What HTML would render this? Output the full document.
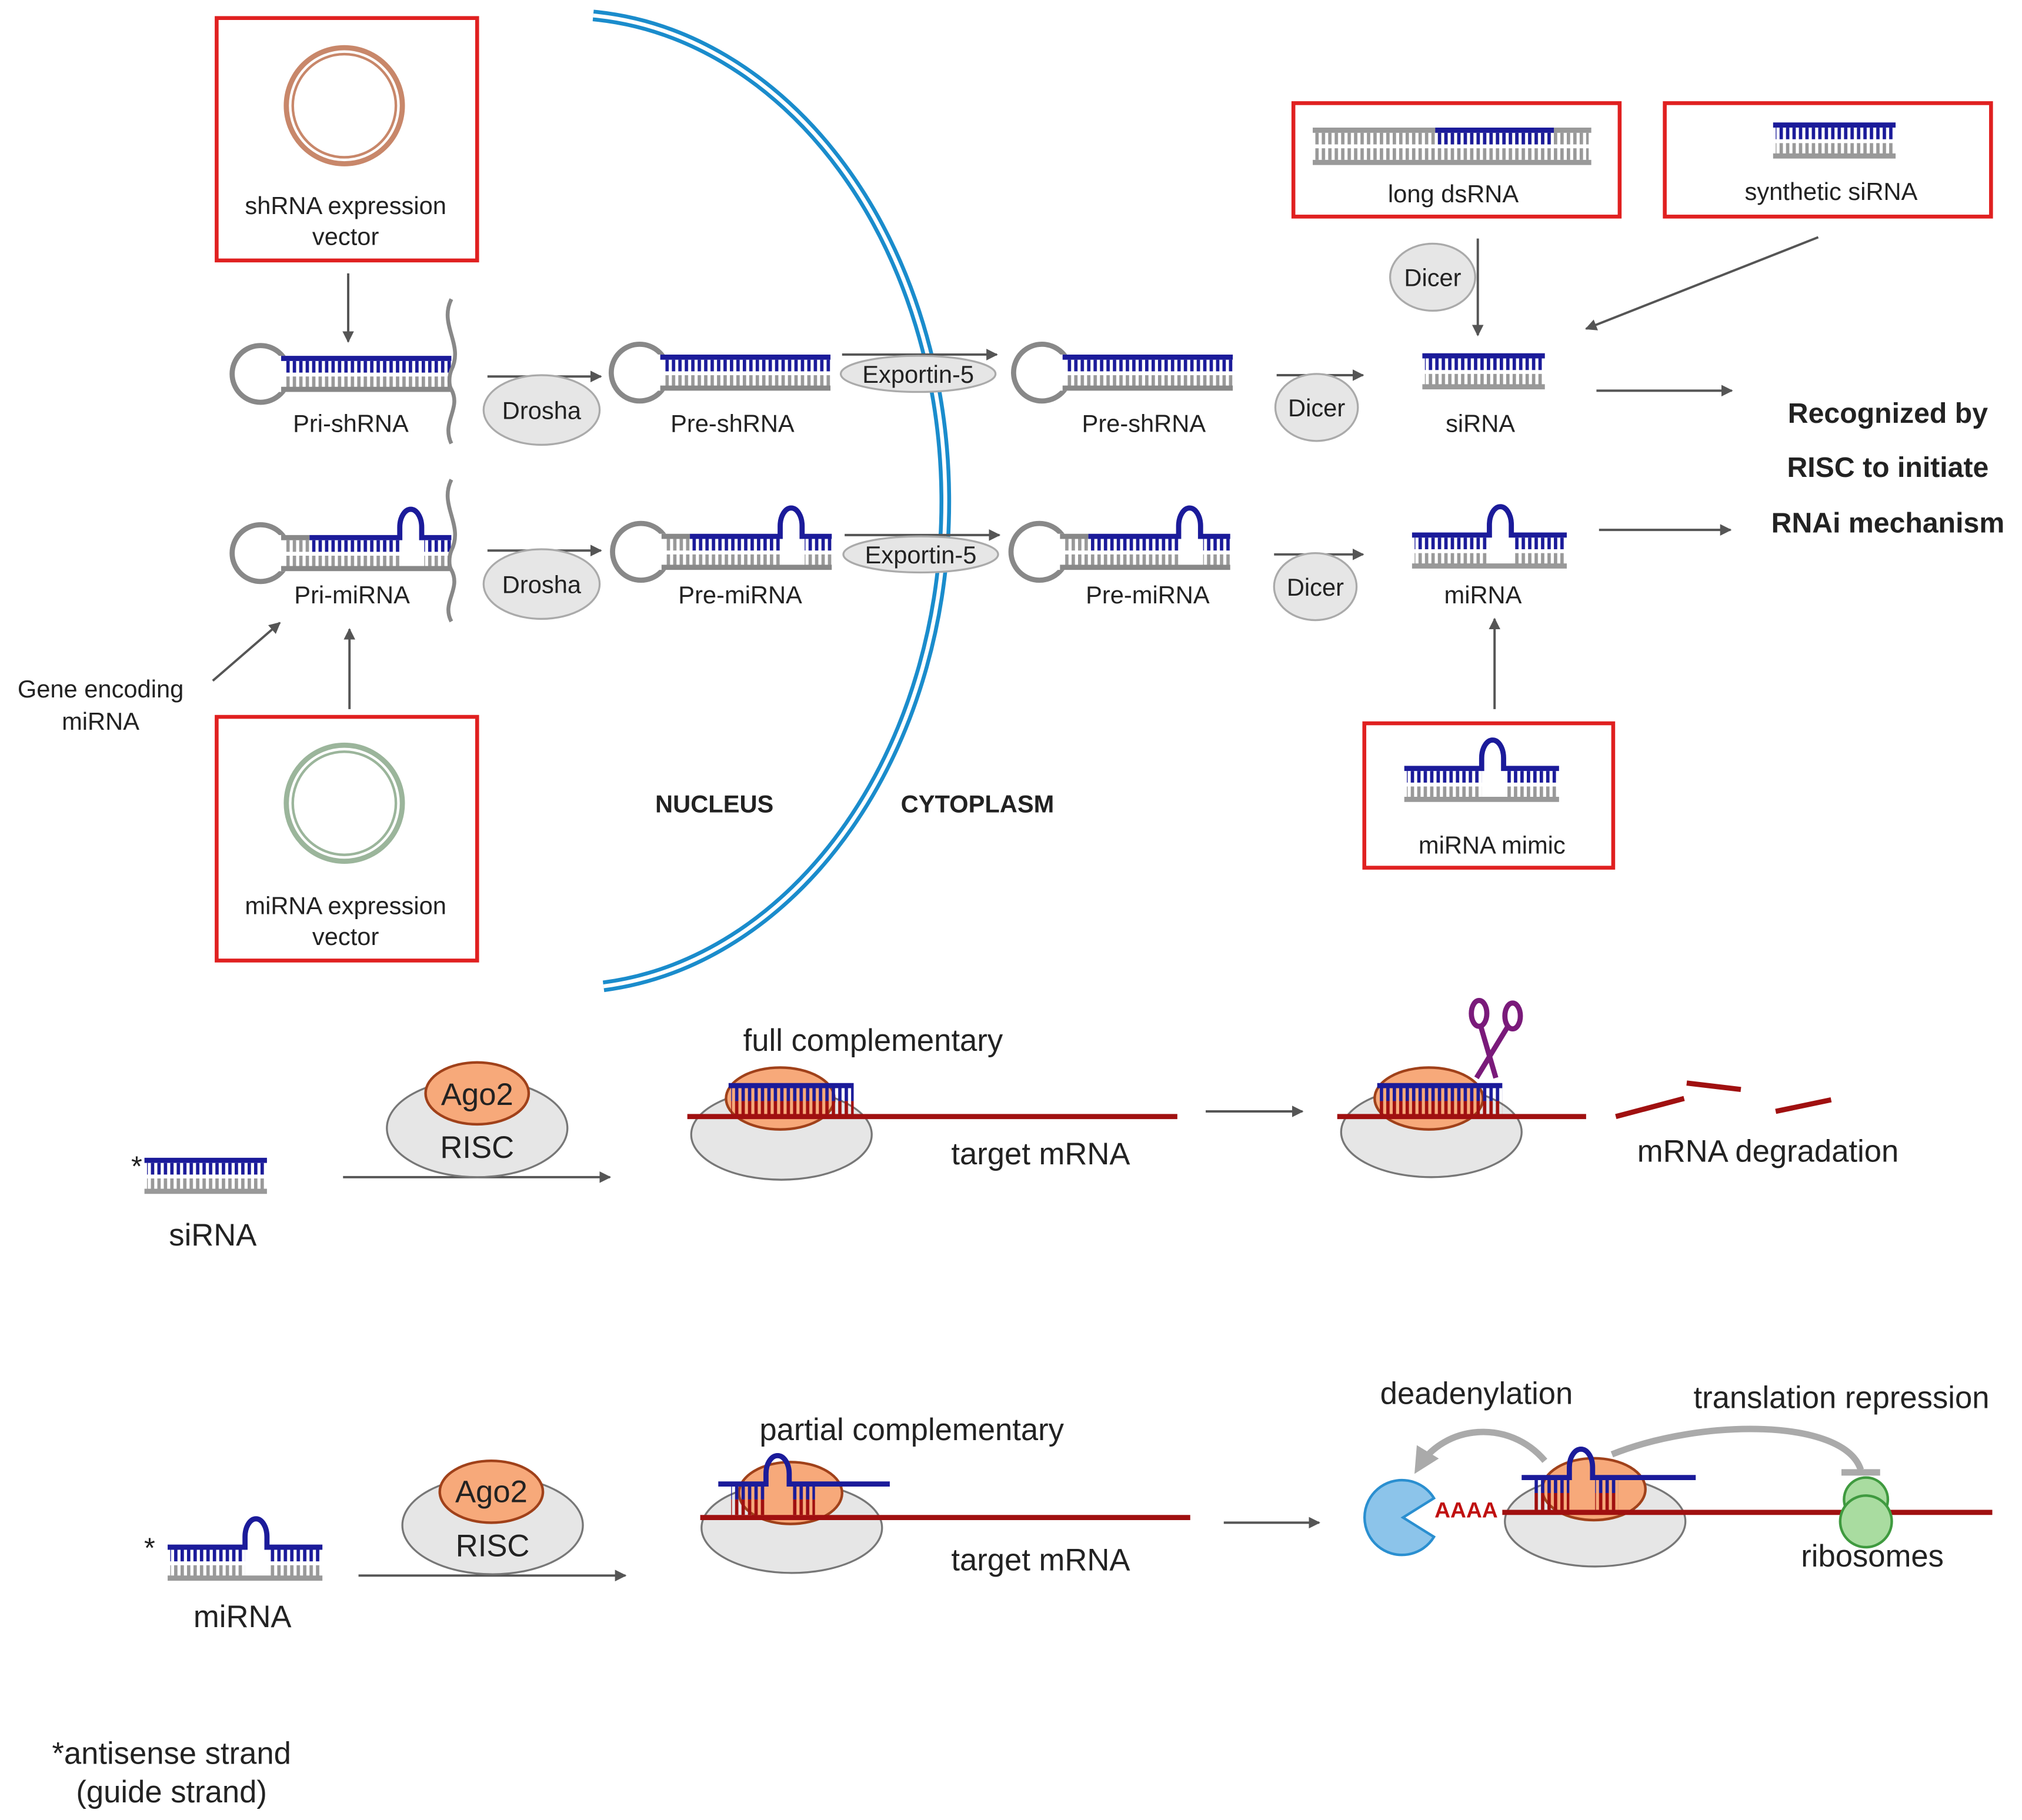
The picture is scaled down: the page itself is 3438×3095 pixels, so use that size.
<!DOCTYPE html>
<html><head><meta charset="utf-8"><style>html,body{margin:0;padding:0;background:#fff}svg{display:block}text{font-family:"Liberation Sans",sans-serif}</style></head><body>
<svg width="3438" height="3095" viewBox="0 0 1568 1411.6" xmlns="http://www.w3.org/2000/svg">
<defs>
<pattern id="pb" patternUnits="userSpaceOnUse" width="5" height="10"><rect width="2.6" height="10" fill="#1b1b9a"/></pattern>
<pattern id="pg" patternUnits="userSpaceOnUse" width="5" height="10"><rect width="2.6" height="10" fill="#999"/></pattern>
<pattern id="pr" patternUnits="userSpaceOnUse" width="5" height="30"><rect width="2.6" height="30" fill="#a01010"/></pattern>
<marker id="ar" viewBox="0 0 10 10" refX="9" refY="5" markerWidth="5" markerHeight="5" orient="auto"><path d="M0,0L10,5L0,10z" fill="#555"/></marker>
<marker id="arg" viewBox="0 0 10 10" refX="7" refY="5" markerWidth="4" markerHeight="4" orient="auto"><path d="M0,0L10,5L0,10z" fill="#aaa"/></marker>
<g id="sh">
<circle cx="0" cy="-2" r="22" fill="none" stroke="#888" stroke-width="4"/>
<rect x="14" y="-16" width="140" height="28" fill="#fff"/>
<line x1="16" y1="-14" x2="148" y2="-14" stroke="#1b1b9a" stroke-width="4"/>
<rect x="20" y="-12" width="128" height="9" fill="url(#pb)"/>
<rect x="20" y="0" width="128" height="9" fill="url(#pg)"/>
<line x1="16" y1="10" x2="148" y2="10" stroke="#888" stroke-width="4"/>
</g>
<g id="mi">
<circle cx="0" cy="-2" r="22" fill="none" stroke="#888" stroke-width="4"/>
<rect x="14" y="-16" width="140" height="28" fill="#fff"/>
<line x1="16" y1="-14" x2="38" y2="-14" stroke="#888" stroke-width="4"/>
<path d="M38,-14H108V-22A8.5,14 0 0 1 125,-22V-14H148" fill="none" stroke="#1b1b9a" stroke-width="4"/>
<rect x="20" y="-12" width="18" height="9" fill="url(#pg)"/>
<rect x="40" y="-12" width="68" height="9" fill="url(#pb)"/>
<rect x="127" y="-12" width="21" height="9" fill="url(#pb)"/>
<rect x="20" y="0" width="88" height="9" fill="url(#pg)"/>
<rect x="127" y="0" width="21" height="9" fill="url(#pg)"/>
<line x1="16" y1="10" x2="148" y2="10" stroke="#888" stroke-width="4"/>
</g>
<g id="si">
<line x1="0" y1="-14" x2="95" y2="-14" stroke="#1b1b9a" stroke-width="4"/>
<rect x="2" y="-12" width="92" height="9" fill="url(#pb)"/>
<rect x="2" y="0" width="92" height="9" fill="url(#pg)"/>
<line x1="0" y1="10" x2="95" y2="10" stroke="#999" stroke-width="4"/>
</g>
<g id="mis">
<path d="M0,-14H60V-22A8.5,14 0 0 1 77,-22V-14H120" fill="none" stroke="#1b1b9a" stroke-width="4"/>
<rect x="2" y="-12" width="58" height="9" fill="url(#pb)"/>
<rect x="79" y="-12" width="40" height="9" fill="url(#pb)"/>
<rect x="2" y="0" width="58" height="9" fill="url(#pg)"/>
<rect x="79" y="0" width="40" height="9" fill="url(#pg)"/>
<line x1="0" y1="10" x2="120" y2="10" stroke="#999" stroke-width="4"/>
</g>
</defs>
<g font-size="19" fill="#222" text-anchor="middle">
<g fill="none" stroke="#e02020" stroke-width="3">
<rect x="168" y="14" width="202" height="188"/><rect x="168" y="556" width="202" height="189"/>
<rect x="1003" y="80" width="253" height="88"/><rect x="1291" y="80" width="253" height="88"/>
<rect x="1058" y="561" width="193" height="112"/></g>
<circle cx="267" cy="82" r="45" fill="none" stroke="#c8876a" stroke-width="4"/><circle cx="267" cy="82" r="40" fill="none" stroke="#c8876a" stroke-width="2"/>
<circle cx="267" cy="623" r="45" fill="none" stroke="#9bb59b" stroke-width="4"/><circle cx="267" cy="623" r="40" fill="none" stroke="#9bb59b" stroke-width="2"/>
<text x="268" y="166">shRNA expression</text><text x="268" y="190">vector</text>
<text x="268" y="709">miRNA expression</text><text x="268" y="733">vector</text>
<text x="78" y="541">Gene encoding</text><text x="78" y="566">miRNA</text>
<path d="M460,12 A295,378 0 0 1 468,765" fill="none" stroke="#1a8ccc" stroke-width="9"/>
<path d="M460,12 A295,378 0 0 1 468,765" fill="none" stroke="#fff" stroke-width="3"/>
<text x="554" y="630" font-weight="bold">NUCLEUS</text><text x="758" y="630" font-weight="bold">CYTOPLASM</text>
<g stroke="#555" stroke-width="1.8" marker-end="url(#ar)" fill="none">
<line x1="270" y1="212" x2="270" y2="265"/><line x1="271" y1="550" x2="271" y2="488"/><line x1="165" y1="528" x2="217" y2="483"/>
<line x1="378" y1="292" x2="466" y2="292"/><line x1="653" y1="275" x2="773" y2="275"/><line x1="990" y1="291" x2="1057" y2="291"/><line x1="1238" y1="303" x2="1343" y2="303"/>
<line x1="378" y1="427" x2="466" y2="427"/><line x1="655" y1="415" x2="775" y2="415"/><line x1="988" y1="430" x2="1057" y2="430"/><line x1="1240" y1="411" x2="1342" y2="411"/>
<line x1="1146" y1="185" x2="1146" y2="260"/><line x1="1410" y1="184" x2="1230" y2="255"/><line x1="1159" y1="550" x2="1159" y2="480"/>
<line x1="266" y1="913" x2="473" y2="913"/><line x1="935" y1="862" x2="1010" y2="862"/><line x1="278" y1="1222" x2="485" y2="1222"/><line x1="949" y1="1181" x2="1023" y2="1181"/>
</g>
<use href="#sh" x="202" y="292"/>
<path d="M350,232c-10,20 10,35 0,55c-2,5 -2,12 0,15c8,15 -8,25 0,42" fill="none" stroke="#888" stroke-width="3"/>
<text x="272" y="335">Pri-shRNA</text>
<use href="#sh" x="496" y="291"/><text x="568" y="335">Pre-shRNA</text>
<use href="#sh" x="808" y="291"/><text x="887" y="335">Pre-shRNA</text>
<use href="#si" x="1103" y="290"/><text x="1148" y="335">siRNA</text>
<use href="#mi" x="202" y="431"/>
<path d="M350,372c-10,20 10,35 0,55c-2,5 -2,12 0,15c8,15 -8,25 0,40" fill="none" stroke="#888" stroke-width="3"/>
<text x="273" y="468">Pri-miRNA</text>
<use href="#mi" x="497" y="430"/><text x="574" y="468">Pre-miRNA</text>
<use href="#mi" x="806" y="430"/><text x="890" y="468">Pre-miRNA</text>
<use href="#mis" x="1095" y="429"/><text x="1150" y="468">miRNA</text>
<g fill="#e6e6e6" stroke="#aaa" stroke-width="1.5">
<ellipse cx="420" cy="318" rx="45" ry="27"/><ellipse cx="420" cy="453" rx="45" ry="27"/>
<ellipse cx="712" cy="290" rx="60" ry="14"/><ellipse cx="714" cy="430" rx="60" ry="14"/>
<ellipse cx="1021" cy="316" rx="32" ry="26"/><ellipse cx="1020" cy="455" rx="32" ry="26"/>
<ellipse cx="1111" cy="215" rx="33" ry="26"/></g>
<text x="420" y="325">Drosha</text><text x="420" y="460">Drosha</text>
<text x="712" y="297">Exportin-5</text><text x="714" y="437">Exportin-5</text>
<text x="1021" y="323">Dicer</text><text x="1020" y="462">Dicer</text><text x="1111" y="222">Dicer</text>
<g font-size="22" font-weight="bold"><text x="1464" y="328">Recognized by</text><text x="1464" y="370">RISC to initiate</text><text x="1464" y="413">RNAi mechanism</text></g>
<line x1="1018" y1="101" x2="1234" y2="101" stroke="#999" stroke-width="4"/>
<line x1="1113" y1="101" x2="1205" y2="101" stroke="#1b1b9a" stroke-width="4"/>
<rect x="1020" y="103" width="212" height="9" fill="url(#pg)"/><rect x="1115" y="103" width="90" height="9" fill="url(#pb)"/>
<rect x="1020" y="115" width="212" height="9" fill="url(#pg)"/>
<line x1="1018" y1="126" x2="1234" y2="126" stroke="#999" stroke-width="4"/>
<text x="1127" y="157">long dsRNA</text>
<use href="#si" x="1375" y="111"/><text x="1420" y="155">synthetic siRNA</text>
<use href="#mis" x="1089" y="610"/><text x="1157" y="662">miRNA mimic</text>
<g font-size="24">
<use href="#si" x="112" y="914"/><text x="106" y="912" font-size="22">*</text><text x="165" y="966">siRNA</text>
<ellipse cx="370" cy="875" rx="70" ry="38" fill="#e6e6e6" stroke="#777" stroke-width="1.5"/>
<ellipse cx="370" cy="848" rx="40" ry="24" fill="#f7a97a" stroke="#a0411a" stroke-width="2"/>
<text x="370" y="857">Ago2</text><text x="370" y="898">RISC</text>
<text x="677" y="815">full complementary</text>
<ellipse cx="606" cy="880" rx="70" ry="35" fill="#e6e6e6" stroke="#777" stroke-width="1.5"/>
<ellipse cx="605" cy="852" rx="42" ry="24" fill="#f7a97a" stroke="#a0411a" stroke-width="2"/>
<line x1="565" y1="842" x2="662" y2="842" stroke="#1b1b9a" stroke-width="4"/>
<rect x="567" y="844" width="95" height="10" fill="url(#pb)"/><rect x="567" y="854" width="95" height="11" fill="url(#pr)"/>
<line x1="533" y1="866" x2="913" y2="866" stroke="#a01010" stroke-width="4"/>
<text x="807" y="903">target mRNA</text>
<ellipse cx="1110" cy="878" rx="70" ry="35" fill="#e6e6e6" stroke="#777" stroke-width="1.5"/>
<ellipse cx="1108" cy="852" rx="42" ry="24" fill="#f7a97a" stroke="#a0411a" stroke-width="2"/>
<line x1="1068" y1="842" x2="1165" y2="842" stroke="#1b1b9a" stroke-width="4"/>
<rect x="1070" y="844" width="95" height="10" fill="url(#pb)"/><rect x="1070" y="854" width="95" height="11" fill="url(#pr)"/>
<line x1="1037" y1="866" x2="1230" y2="866" stroke="#a01010" stroke-width="4"/>
<g stroke="#7a1a7a" stroke-width="4" fill="none"><line x1="1145" y1="836" x2="1170" y2="795"/><line x1="1160" y1="836" x2="1148" y2="795"/><ellipse cx="1147" cy="786" rx="6" ry="10"/><ellipse cx="1173" cy="788" rx="6" ry="10"/></g>
<g stroke="#a01010" stroke-width="4"><line x1="1253" y1="866" x2="1306" y2="852"/><line x1="1308" y1="840" x2="1350" y2="845"/><line x1="1377" y1="862" x2="1420" y2="853"/></g>
<text x="1371" y="901">mRNA degradation</text>
<use href="#mis" x="130" y="1214"/><text x="116" y="1208" font-size="22">*</text><text x="188" y="1262">miRNA</text>
<ellipse cx="382" cy="1183" rx="70" ry="38" fill="#e6e6e6" stroke="#777" stroke-width="1.5"/>
<ellipse cx="381" cy="1157" rx="40" ry="24" fill="#f7a97a" stroke="#a0411a" stroke-width="2"/>
<text x="381" y="1165">Ago2</text><text x="382" y="1207">RISC</text>
<text x="707" y="1117">partial complementary</text>
<ellipse cx="614" cy="1185" rx="70" ry="35" fill="#e6e6e6" stroke="#777" stroke-width="1.5"/>
<ellipse cx="613" cy="1158" rx="40" ry="24" fill="#f7a97a" stroke="#a0411a" stroke-width="2"/>
<path d="M557,1151H594V1143A9,14 0 0 1 612,1143V1151H690" fill="none" stroke="#1b1b9a" stroke-width="4"/>
<rect x="567" y="1153" width="27" height="10" fill="url(#pb)"/><rect x="567" y="1163" width="27" height="12" fill="url(#pr)"/>
<rect x="614" y="1153" width="18" height="10" fill="url(#pb)"/><rect x="614" y="1163" width="18" height="12" fill="url(#pr)"/>
<line x1="543" y1="1177" x2="923" y2="1177" stroke="#a01010" stroke-width="4"/>
<text x="807" y="1218">target mRNA</text>
<ellipse cx="1237" cy="1180" rx="70" ry="35" fill="#e6e6e6" stroke="#777" stroke-width="1.5"/>
<ellipse cx="1236" cy="1155" rx="40" ry="24" fill="#f7a97a" stroke="#a0411a" stroke-width="2"/>
<path d="M1180,1146H1217V1138A9,14 0 0 1 1235,1138V1146H1315" fill="none" stroke="#1b1b9a" stroke-width="4"/>
<rect x="1190" y="1148" width="27" height="10" fill="url(#pb)"/><rect x="1190" y="1158" width="27" height="13" fill="url(#pr)"/>
<rect x="1237" y="1148" width="18" height="10" fill="url(#pb)"/><rect x="1237" y="1158" width="18" height="13" fill="url(#pr)"/>
<line x1="1165" y1="1173" x2="1545" y2="1173" stroke="#a01010" stroke-width="4"/>
<text x="1137" y="1177" font-size="17" font-weight="bold" fill="#c01010">AAAA</text>
<path d="M1112,1162A29,29 0 1 0 1112,1192L1088,1177Z" fill="#8cc4ea" stroke="#2a8fd0" stroke-width="2"/>
<path d="M1198,1133C1170,1100 1120,1105 1100,1138" fill="none" stroke="#aaa" stroke-width="5" marker-end="url(#arg)"/>
<path d="M1250,1128C1320,1100 1430,1100 1443,1140" fill="none" stroke="#aaa" stroke-width="5"/>
<line x1="1428" y1="1142" x2="1458" y2="1142" stroke="#aaa" stroke-width="5"/>
<circle cx="1447" cy="1163" r="17" fill="#a9dca0" stroke="#3f9a3f" stroke-width="2"/>
<circle cx="1447" cy="1180" r="20" fill="#a9dca0" stroke="#3f9a3f" stroke-width="2"/>
<text x="1145" y="1089">deadenylation</text><text x="1428" y="1092">translation repression</text><text x="1452" y="1215">ribosomes</text>
<text x="133" y="1368">*antisense strand</text><text x="133" y="1398">(guide strand)</text>
</g>
</g>
</svg>
</body></html>
